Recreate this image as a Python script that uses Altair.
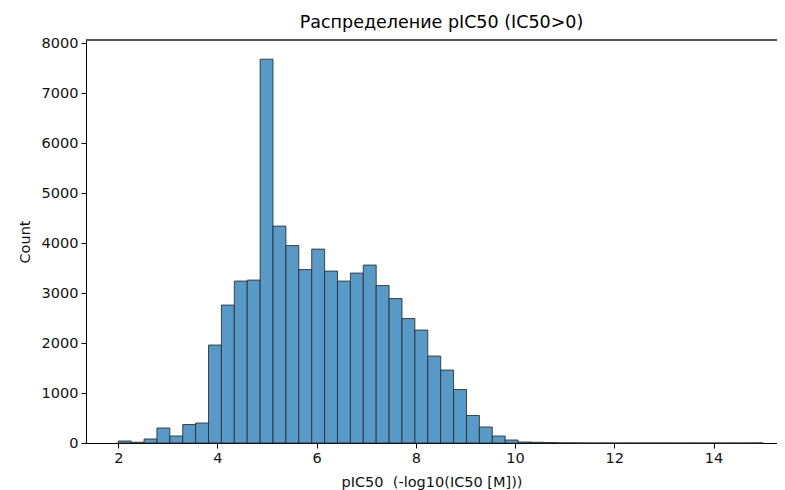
import altair as alt
import pandas as pd

# bin edges of the histogram (50 equal bins from 2.0 to 15.0)
bin_start = 2.0
bin_width = 0.26
counts = [40, 15, 80, 300, 140, 370, 400, 1960, 2760, 3240,
          3260, 7680, 4340, 3950, 3470, 3880, 3440, 3240, 3400, 3560,
          3150, 2890, 2490, 2260, 1740, 1460, 1070, 550, 320, 140,
          60, 20, 15, 10, 3, 2, 0, 0, 0, 0,
          0, 0, 0, 0, 0, 0, 0, 0, 0, 1]
x_ticks = [2, 4, 6, 8, 10, 12, 14]
y_ticks = [0, 1000, 2000, 3000, 4000, 5000, 6000, 7000, 8000]

lo = [round(bin_start + i * bin_width, 4) for i in range(len(counts))]
hi = [round(bin_start + (i + 1) * bin_width, 4) for i in range(len(counts))]
df = pd.DataFrame({"lo": lo, "hi": hi, "count": counts})

FONT = "DejaVu Sans"
W, H = 691, 403

bars = (
    alt.Chart(df)
    .mark_rect(color="#5799c7", stroke="#2b2b2b", strokeWidth=1, strokeOpacity=0.85)
    .encode(
        x=alt.X("lo:Q", title="pIC50\u00a0\u00a0(-log10(IC50 [M]))",
                scale=alt.Scale(domain=[1.35, 15.28], nice=False, zero=False),
                axis=alt.Axis(values=x_ticks, format="d", grid=False)),
        x2="hi:Q",
        y=alt.Y("count:Q", title="Count",
                scale=alt.Scale(domain=[0, 8064], nice=False),
                axis=alt.Axis(values=y_ticks, format="d", grid=False)),
    )
)

top_spine = alt.Chart(df).mark_rule(color="#555555", strokeWidth=1.5).encode(
    x=alt.value(0), x2=alt.value(W), y=alt.value(0)
)

chart = (
    alt.layer(bars, top_spine)
    .properties(
        width=W,
        height=H,
        title=alt.TitleParams("Распределение pIC50 (IC50>0)", font=FONT, fontSize=17.5,
                              fontWeight="normal", color="black", offset=4, dx=10),
        autosize=alt.AutoSizeParams(type="none"),
        padding={"left": 78, "top": 32, "right": 0, "bottom": 47},
    )
    .configure_view(stroke=None)
    .configure_axis(
        domainColor="black", domainWidth=1, tickColor="black", tickSize=5, tickWidth=1,
        labelFont=FONT, labelFontSize=14.5, labelColor="#111111", labelPadding=3,
        titleFont=FONT, titleFontSize=14.5, titleFontWeight="normal", titleColor="#111111",
    )
    .configure_axisY(titlePadding=9)
    .configure_axisX(titlePadding=11)
)

chart.save("out.html", embed_options={"renderer": "svg", "actions": False})
